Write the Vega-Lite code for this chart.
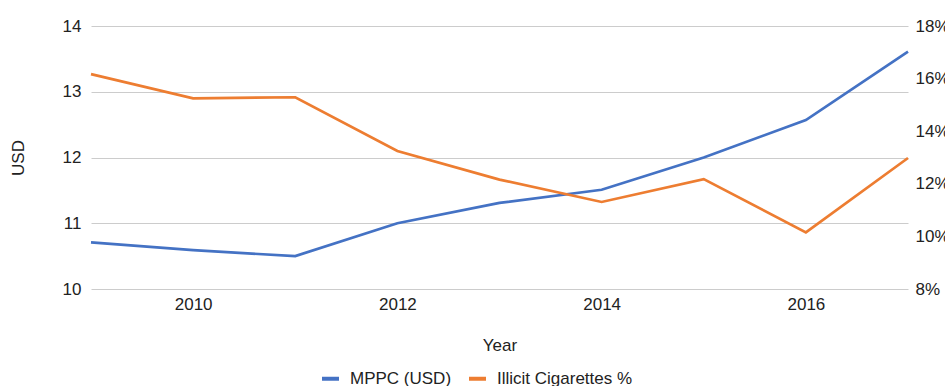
{
  "$schema": "https://vega.github.io/schema/vega-lite/v6.json",
  "width": 817,
  "height": 263,
  "autosize": {"type": "none"},
  "padding": {"left": 91, "top": 26, "right": 37, "bottom": 97},
  "background": "white",
  "config": {
    "view": {"stroke": null},
    "font": "Liberation Sans",
    "axis": {
      "labelFont": "Liberation Sans",
      "titleFont": "Liberation Sans",
      "labelFontSize": 17,
      "titleFontSize": 17,
      "labelColor": "#222222",
      "titleColor": "#222222",
      "titleFontWeight": "normal",
      "ticks": false,
      "domain": false
    },
    "legend": {
      "labelFont": "Liberation Sans",
      "labelFontSize": 17,
      "labelColor": "#222222"
    }
  },
  "data": {
    "values": [
      {"Year": 2009, "MPPC": 10.71, "Illicit": 16.17},
      {"Year": 2010, "MPPC": 10.59, "Illicit": 15.25},
      {"Year": 2011, "MPPC": 10.50, "Illicit": 15.29},
      {"Year": 2012, "MPPC": 11.00, "Illicit": 13.25},
      {"Year": 2013, "MPPC": 11.31, "Illicit": 12.16},
      {"Year": 2014, "MPPC": 11.51, "Illicit": 11.31},
      {"Year": 2015, "MPPC": 12.00, "Illicit": 12.18},
      {"Year": 2016, "MPPC": 12.57, "Illicit": 10.15},
      {"Year": 2017, "MPPC": 13.61, "Illicit": 12.98}
    ]
  },
  "encoding": {
    "x": {
      "field": "Year",
      "type": "quantitative",
      "scale": {"domain": [2009, 2017], "nice": false, "zero": false},
      "axis": {
        "title": "Year",
        "values": [2010, 2012, 2014, 2016],
        "format": "d",
        "grid": false,
        "labelPadding": 7,
        "titlePadding": 25
      }
    }
  },
  "layer": [
    {
      "mark": {"type": "line", "strokeWidth": 2.7},
      "encoding": {
        "y": {
          "field": "MPPC",
          "type": "quantitative",
          "scale": {"domain": [10, 14], "nice": false, "zero": false},
          "axis": {
            "title": "USD",
            "orient": "left",
            "values": [10, 11, 12, 13, 14],
            "grid": true,
            "gridColor": "#cccccc",
            "labelPadding": 10,
            "titlePadding": 35
          }
        },
        "color": {
          "datum": "MPPC (USD)",
          "type": "nominal",
          "scale": {
            "domain": ["MPPC (USD)", "Illicit Cigarettes %"],
            "range": ["#4472C4", "#ED7D31"]
          },
          "legend": {
            "title": null,
            "orient": "none",
            "direction": "horizontal",
            "legendX": 229,
            "legendY": 342,
            "symbolType": "stroke",
            "symbolStrokeWidth": 4,
            "symbolSize": 289,
            "columnPadding": 9,
            "labelOffset": 9
          }
        }
      }
    },
    {
      "mark": {"type": "line", "strokeWidth": 2.7},
      "encoding": {
        "y": {
          "field": "Illicit",
          "type": "quantitative",
          "scale": {"domain": [8, 18], "nice": false, "zero": false},
          "axis": {
            "title": null,
            "orient": "right",
            "values": [8, 10, 12, 14, 16, 18],
            "labelExpr": "datum.value + '%'",
            "grid": false,
            "labelPadding": 7
          }
        },
        "color": {"datum": "Illicit Cigarettes %", "type": "nominal"}
      }
    }
  ],
  "resolve": {"scale": {"y": "independent"}}
}
